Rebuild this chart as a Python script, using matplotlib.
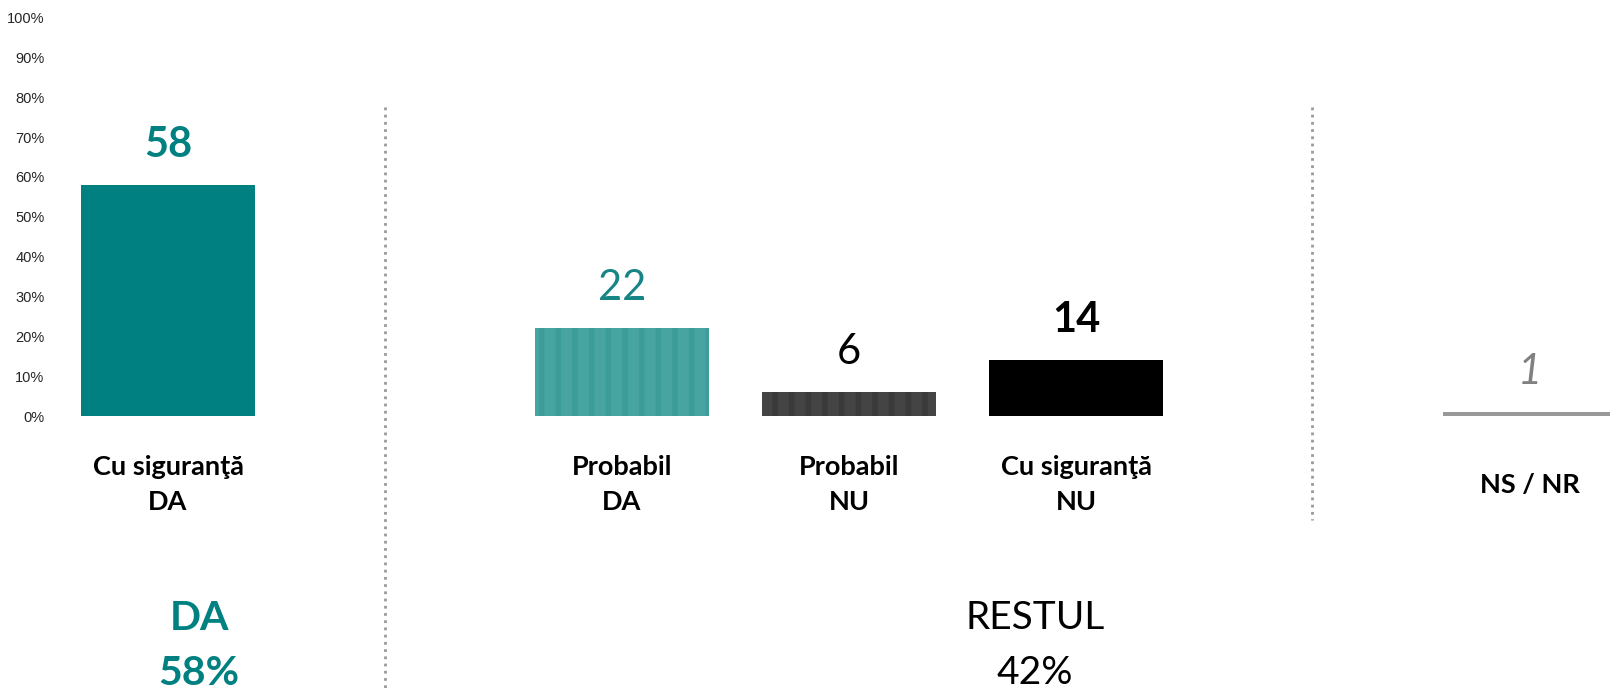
import matplotlib
matplotlib.use("Agg")
import matplotlib.pyplot as plt

plt.rcParams['font.family'] = ['Lato', 'DejaVu Sans']
plt.rcParams['hatch.linewidth'] = 4.0

# data
categories = ['Cu siguranţă\nDA', 'Probabil\nDA', 'Probabil\nNU', 'Cu siguranţă\nNU', 'NS / NR']
values = [58, 22, 6, 14, 1]
positions = [0, 2, 3, 4, 6]
group_labels = ['DA\n58%', 'RESTUL\n42%']
ytick_vals = list(range(0, 101, 10))
ytick_labels = [f'{v}%' for v in ytick_vals]

# styles
bar_colors = ['#008080', '#48a4a1', '#444444', '#000000', '#999999']
hatch_colors = [None, '#3c9c99', '#3a3a3a', None, None]
val_colors = ['#008080', '#178585', '#000000', '#000000', '#808080']
val_weights = ['bold', 'normal', 'normal', 'bold', 'normal']
val_styles = ['normal', 'normal', 'normal', 'normal', 'italic']

fig = plt.figure(figsize=(16.1, 6.88), dpi=100)
ax = fig.add_axes([50 / 1610, 272 / 688, 1 - 50 / 1610, 398.5 / 688])

for i, (p, v) in enumerate(zip(positions, values)):
    if hatch_colors[i]:
        ax.bar(p, v, width=0.77, color=bar_colors[i], edgecolor=hatch_colors[i],
               linewidth=0, hatch='|', zorder=2)
    else:
        ax.bar(p, v, width=0.77, color=bar_colors[i], linewidth=0, zorder=2)
    ax.text(p, v + 10, str(v), ha='center', va='center', fontsize=30,
            color=val_colors[i], fontweight=val_weights[i], fontstyle=val_styles[i])
    ax.text(p, -17.3, categories[i], ha='center', va='center', fontsize=19.5,
            fontweight='bold', linespacing=1.55, clip_on=False)

# group labels below
ax.text(0.137, -57.6, group_labels[0], ha='center', va='center', fontsize=29.5,
        fontweight='bold', color='#008080', linespacing=1.6, clip_on=False)
ax.text(3.82, -57.6, group_labels[1], ha='center', va='center', fontsize=28,
        color='#000000', linespacing=1.66, clip_on=False)

# dotted separators
ax.plot([0.956, 0.956], [77.5, -70], linestyle=(0, (1, 1.6)), color='#999999',
        linewidth=2, clip_on=False)
ax.plot([5.04, 5.04], [77.5, -26], linestyle=(0, (1, 1.6)), color='#999999',
        linewidth=2, clip_on=False)

ax.set_xlim(-0.52, 6.352)
ax.set_ylim(0, 100)
ax.set_xticks([])
ax.set_yticks(ytick_vals)
ax.set_yticklabels(ytick_labels, fontsize=10.5, color='#262626',
                   family=['Liberation Sans', 'DejaVu Sans'])
ax.tick_params(axis='y', length=0, pad=4)
for spine in ax.spines.values():
    spine.set_visible(False)

fig.savefig('out.png', dpi=100)
